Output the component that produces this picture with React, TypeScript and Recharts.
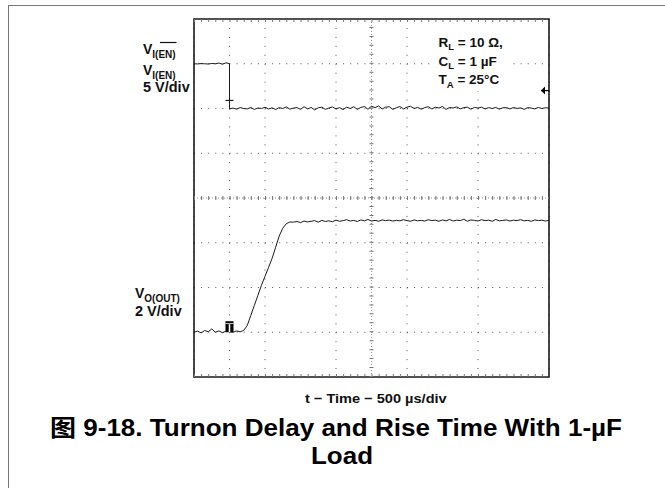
import React from 'react'
import {
    LineChart,
    Line,
    XAxis,
    YAxis,
    CartesianGrid,
    ReferenceLine,
    ReferenceArea,
    ReferenceDot
} from 'recharts'

// time base: 500 us/div, 10 divisions
const divTicksX = [0, 500, 1000, 1500, 2000, 2500, 3000, 3500, 4000, 4500, 5000]
// channel 1 scale: 5 V/div, 8 divisions
const divTicksEn = [-30, -25, -20, -15, -10, -5, 0, 5, 10]

const sampleTimes = [
    0, 50, 100, 150, 200, 250, 300, 350, 400, 450,
    500, 550, 600, 650, 700, 750, 800, 850, 900, 950,
    1000, 1050, 1100, 1150, 1200, 1250, 1300, 1350, 1400, 1450,
    1500, 1550, 1600, 1650, 1700, 1750, 1800, 1850, 1900, 1950,
    2000, 2050, 2100, 2150, 2200, 2250, 2300, 2350, 2400, 2450,
    2500, 2550, 2600, 2650, 2700, 2750, 2800, 2850, 2900, 2950,
    3000, 3050, 3100, 3150, 3200, 3250, 3300, 3350, 3400, 3450,
    3500, 3550, 3600, 3650, 3700, 3750, 3800, 3850, 3900, 3950,
    4000, 4050, 4100, 4150, 4200, 4250, 4300, 4350, 4400, 4450,
    4500, 4550, 4600, 4650, 4700, 4750, 4800, 4850, 4900, 4950,
    5000
]

// V_I(EN), 5 V/div
const enableVolts = [
    5.0, 4.98, 5.02, 5.0, 4.97, 5.03, 5.0, 5.08, 4.95, 5.1,
    -0.05, 0.05, -0.08, 0.1, 0.0, -0.05, 0.12, -0.1, 0.05, 0.0,
    0.15, -0.05, 0.08, -0.12, 0.1, 0.0, 0.18, -0.08, 0.05, 0.1,
    -0.1, 0.2, -0.05, 0.12, -0.15, 0.08, 0.15, -0.1, 0.05, 0.18,
    -0.05, 0.1, -0.12, 0.15, 0.0, 0.2, -0.1, 0.12, 0.22, -0.08,
    0.25, 0.1, 0.28, -0.05, 0.15, 0.2, -0.1, 0.08, 0.22, -0.05,
    0.15, 0.25, 0.0, 0.12, -0.08, 0.1, 0.2, -0.05, 0.15, 0.05,
    0.22, -0.1, 0.12, 0.05, 0.18, -0.05, 0.1, 0.15, -0.08, 0.12,
    0.05, 0.15, -0.05, 0.1, 0.0, 0.12, -0.08, 0.08, 0.1, -0.05,
    0.12, 0.0, 0.08, -0.1, 0.1, 0.05, -0.05, 0.12, 0.0, 0.08,
    0.05
]
const enableEdgeTime = 500
const enableEdgeTop = 5.02
const enableTriggerLevel = 2
const enableTriggerMark = 0.9

// V_O(OUT), 2 V/div
const outputVolts = [
    0.0, 0.05, -0.03, 0.08, 0.02, 0.15, 0.0, 0.06, -0.02, 0.05,
    0.03, 0.0, 0.06, 0.02, 0.08, 0.3, 0.75, 1.2, 1.65, 2.1,
    2.5, 2.9, 3.3, 3.8, 4.3, 4.65, 4.85, 4.93, 4.92, 4.95,
    4.9, 4.97, 4.93, 4.96, 4.99, 4.92, 5.0, 4.95, 4.98, 4.94,
    5.01, 4.96, 4.99, 5.03, 4.97, 5.0, 4.95, 5.02, 4.98, 5.04,
    4.97, 5.0, 4.96, 5.02, 4.99, 5.01, 4.97, 5.0, 4.98, 5.03,
    4.99, 4.96, 5.02, 4.98, 5.0, 4.97, 5.03, 4.99, 5.01, 4.96,
    5.02, 4.98, 5.04, 4.97, 5.01, 4.99, 5.05, 4.96, 5.02, 5.0,
    4.97, 5.03, 4.99, 5.01, 4.96, 5.04, 4.98, 5.0, 5.02, 4.97,
    5.01, 4.99, 5.03, 4.98, 5.0, 4.96, 5.02, 4.99, 5.01, 4.97,
    5.0
]

const enableData: { t: number, v: number }[] = []
sampleTimes.forEach((t, i) => {
    if (t === enableEdgeTime) enableData.push({ t, v: enableEdgeTop })
    enableData.push({ t, v: enableVolts[i] })
})
const outputData = sampleTimes.map((t, i) => ({ t, v: outputVolts[i] }))

const FONT = "'Liberation Sans', Arial, 'Noto Sans CJK SC', sans-serif"
const TRACE = '#1a1a1a'
const DOTS = '#555'
const TICKS = '#777'

// plot box is 355 x 358 px: 50 minor steps across, 40 down
const minorX = 355 / 50
const minorY = 358 / 40

export default function App() {
  return (
    <div style={{ position: 'fixed', left: 0, top: 0, width: 665, height: 488, overflow: 'hidden', background: '#fff' }}>
        <div style={{
            position: 'absolute', left: 8, top: 5, width: 700, height: 600,
            borderLeft: '1.5px solid #777', borderTop: '1.5px solid #777'
        }} />

        <div style={{ position: 'absolute', left: 0, top: 0 }}>
            <LineChart
            width={665}
            height={488}
            margin={{ top: 19, right: 116, bottom: 111, left: 194 }}
            >
                <XAxis dataKey="t" type="number" domain={[0, 5000]} ticks={divTicksX} hide allowDataOverflow />
                <YAxis yAxisId="en" type="number" domain={[-30, 10]} ticks={divTicksEn} hide allowDataOverflow />
                <YAxis yAxisId="out" type="number" domain={[-2, 14]} hide allowDataOverflow />

                <CartesianGrid
                yAxisId="en"
                horizontal={false}
                stroke={DOTS}
                strokeDasharray={`1 ${minorY - 1}`}
                />
                <CartesianGrid
                yAxisId="en"
                vertical={false}
                stroke={DOTS}
                strokeDasharray={`1 ${minorX - 1}`}
                />

                {/* centre cross: thin line plus minor ticks */}
                <ReferenceLine yAxisId="en" x={2500} stroke="#999" strokeWidth={1} strokeDasharray="1 2" />
                <ReferenceLine yAxisId="en" y={-10} stroke="#999" strokeWidth={1} strokeDasharray="1 2" />
                <ReferenceLine yAxisId="en" x={2500} stroke={TICKS} strokeWidth={4} strokeDasharray={`1 ${minorY - 1}`} />
                <ReferenceLine yAxisId="en" y={-10} stroke={TICKS} strokeWidth={4} strokeDasharray={`1 ${minorX - 1}`} />
                {/* edge ticks */}
                <ReferenceLine yAxisId="en" y={10} stroke={TICKS} strokeWidth={6} strokeDasharray={`1 ${minorX - 1}`} ifOverflow="hidden" />
                <ReferenceLine yAxisId="en" y={-30} stroke={TICKS} strokeWidth={6} strokeDasharray={`1 ${minorX - 1}`} ifOverflow="hidden" />

                <ReferenceArea
                yAxisId="en"
                x1={0}
                x2={5000}
                y1={-30}
                y2={10}
                fill="#fff"
                fillOpacity={0}
                stroke="#1a1a1a"
                strokeOpacity={1}
                strokeWidth={1.6}
                />

                <Line
                data={enableData}
                yAxisId="en"
                dataKey="v"
                type="linear"
                dot={false}
                stroke={TRACE}
                strokeWidth={1}
                isAnimationActive={false}
                />
                <Line
                data={outputData}
                yAxisId="out"
                dataKey="v"
                type="linear"
                dot={false}
                stroke={TRACE}
                strokeWidth={1}
                isAnimationActive={false}
                />

                <ReferenceDot
                yAxisId="en"
                x={enableEdgeTime}
                y={enableTriggerMark}
                shape={(p: any) => (
                    <line x1={p.cx - 4} x2={p.cx + 4} y1={p.cy} y2={p.cy} stroke={TRACE} strokeWidth={1.2} />
                )}
                />
                <ReferenceDot
                yAxisId="out"
                x={enableEdgeTime}
                y={0}
                shape={(p: any) => (
                    <g>
                        <rect x={p.cx - 4} y={p.cy - 11} width={8} height={11} fill="#000" />
                        <rect x={p.cx - 0.8} y={p.cy - 8} width={1.6} height={8} fill="#fff" />
                        <rect x={p.cx - 4} y={p.cy - 9} width={8} height={0.8} fill="#fff" />
                    </g>
                )}
                />
                <ReferenceDot
                yAxisId="en"
                x={5000}
                y={enableTriggerLevel}
                shape={(p: any) => (
                    <g>
                        <path d={`M${p.cx - 8},${p.cy} L${p.cx - 4},${p.cy - 4} L${p.cx - 4},${p.cy + 4} Z`} fill="#000" />
                        <line x1={p.cx - 8} x2={p.cx} y1={p.cy} y2={p.cy} stroke="#000" strokeWidth={1.2} />
                    </g>
                )}
                />
            </LineChart>
        </div>

        <svg width={665} height={488} style={{ position: 'absolute', left: 0, top: 0, pointerEvents: 'none' }}
        fontFamily={FONT} fontWeight="bold" fill="#111">
            {/* conditions box */}
            <rect x={432} y={26} width={80} height={65} fill="#fff" />
            <text x={438.5} y={46.5} fontSize={13.5}>R<tspan fontSize={9.5} dy={3.5}>L</tspan><tspan dy={-3.5}> = 10 Ω,</tspan></text>
            <text x={438.5} y={65.5} fontSize={13.5}>C<tspan fontSize={9.5} dy={3.5}>L</tspan><tspan dy={-3.5}> = 1 µF</tspan></text>
            <text x={438.5} y={84} fontSize={13.5}>T<tspan fontSize={9.5} dy={3.5}>A</tspan><tspan dy={-3.5}> = 25°C</tspan></text>

            {/* channel labels */}
            <text x={143} y={53.5} fontSize={14}>V<tspan fontSize={10} dy={4}>I(EN)</tspan></text>
            <line x1={160} x2={176.5} y1={42.5} y2={42.5} stroke="#111" strokeWidth={1.2} />
            <text x={143} y={74.5} fontSize={14}>V<tspan fontSize={10} dy={4}>I(EN)</tspan></text>
            <text x={143} y={92} fontSize={14} textLength={46.7} lengthAdjust="spacingAndGlyphs">5 V/div</text>

            <text x={135} y={298.3} fontSize={14}>V<tspan fontSize={10} dy={3.5}>O(OUT)</tspan></text>
            <text x={135} y={316} fontSize={14} textLength={46.7} lengthAdjust="spacingAndGlyphs">2 V/div</text>

            <text x={305} y={402.5} fontSize={13.5} textLength={141.7} lengthAdjust="spacingAndGlyphs">t − Time − 500 µs/div</text>

            <text x={50} y={436} fontSize={23} fill="#000" textLength={572} lengthAdjust="spacingAndGlyphs">图 9-18. Turnon Delay and Rise Time With 1-µF</text>
            <text x={311} y={463.5} fontSize={23} fill="#000" textLength={62} lengthAdjust="spacingAndGlyphs">Load</text>
        </svg>
    </div>
  )
}
